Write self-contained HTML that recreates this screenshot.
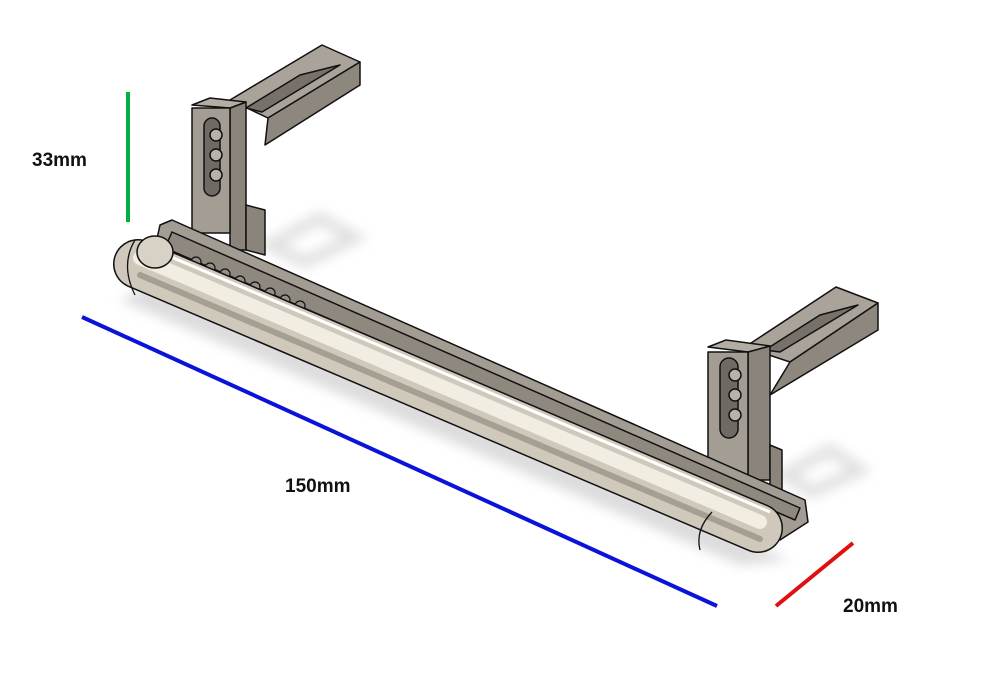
<!DOCTYPE html>
<html><head><style>
html,body{margin:0;padding:0;background:#fff;width:1000px;height:674px;overflow:hidden}
svg{display:block}
text{font-family:"Liberation Sans",Arial,sans-serif;font-size:19px;font-weight:bold;fill:#111}
</style></head><body>
<svg width="1000" height="674" viewBox="0 0 1000 674" xmlns="http://www.w3.org/2000/svg">
<defs>
<filter id="b" x="-20%" y="-20%" width="140%" height="140%"><feGaussianBlur stdDeviation="6"/></filter>
</defs>
<g filter="url(#b)" fill="#dcdcdc">
<polygon points="120,300 740,565 790,560 150,285"/>
</g>
<g fill="none" stroke="#e0e0e0" stroke-width="12" filter="url(#b)">
<polygon points="270,245 320,218 355,238 305,262"/>
<polygon points="785,475 830,450 860,470 812,492"/>
</g>
<!-- left bracket -->
<g stroke="#111" stroke-width="1.5" stroke-linejoin="round">
<polygon points="230,100 322,45 360,62 268,118" fill="#a9a39a"/>
<polygon points="268,118 360,62 360,85 265,145" fill="#8d877e"/>
<polygon points="246,108 300,75 340,65 262,112" fill="#77716a"/>
<polygon points="230,108 246,102 246,250 230,250" fill="#8a847b"/>
<polygon points="246,205 265,210 265,255 246,250" fill="#8a847b"/>
<polygon points="192,105 210,98 246,102 230,108" fill="#b3ada3"/>
<rect x="192" y="108" width="38" height="125" fill="#a39d94"/>
<rect x="204" y="118" width="16" height="78" rx="8" fill="#6f6a63"/>
<circle cx="216" cy="135" r="6" fill="#b8b2a8"/><circle cx="216" cy="155" r="6" fill="#b8b2a8"/><circle cx="216" cy="175" r="6" fill="#b8b2a8"/>
</g>
<!-- right bracket -->
<g stroke="#111" stroke-width="1.5" stroke-linejoin="round">
<polygon points="745,347 836,287 878,303 790,362" fill="#a9a39a"/>
<polygon points="790,362 878,303 878,330 770,395" fill="#8d877e"/>
<polygon points="765,350 820,315 858,305 780,352" fill="#77716a"/>
<polygon points="748,352 770,346 770,480 748,480" fill="#8a847b"/>
<polygon points="770,445 782,450 782,495 770,490" fill="#8a847b"/>
<polygon points="708,347 726,340 770,346 748,352" fill="#b3ada3"/>
<rect x="708" y="352" width="40" height="140" fill="#a39d94"/>
<rect x="720" y="358" width="18" height="80" rx="9" fill="#6f6a63"/>
<circle cx="735" cy="375" r="6" fill="#b8b2a8"/><circle cx="735" cy="395" r="6" fill="#b8b2a8"/><circle cx="735" cy="415" r="6" fill="#b8b2a8"/>
</g>
<!-- rail channel -->
<g stroke="#111" stroke-width="1.5" stroke-linejoin="round">
<polygon points="160,225 172,220 805,500 808,522 780,540 150,270" fill="#a29c93"/>
<polygon points="172,232 800,508 795,520 165,248" fill="#8e887f"/>
</g>
<g fill="#958f86" stroke="#111" stroke-width="1.2">
<circle cx="196" cy="262" r="5"/><circle cx="210" cy="268" r="5"/><circle cx="225" cy="274" r="5"/><circle cx="240" cy="281" r="5"/><circle cx="255" cy="287" r="5"/><circle cx="270" cy="293" r="5"/><circle cx="285" cy="300" r="5"/><circle cx="300" cy="306" r="5"/>
<circle cx="633" cy="457" r="5"/><circle cx="648" cy="463" r="5"/><circle cx="663" cy="470" r="5"/><circle cx="678" cy="476" r="5"/><circle cx="693" cy="483" r="5"/><circle cx="708" cy="489" r="5"/><circle cx="723" cy="496" r="5"/><circle cx="738" cy="502" r="5"/>
</g>
<!-- tube -->
<line x1="138" y1="264" x2="758" y2="528" stroke="#111" stroke-width="50" stroke-linecap="round"/>
<line x1="138" y1="264" x2="758" y2="528" stroke="#cfc8bb" stroke-width="47" stroke-linecap="round"/>
<line x1="140" y1="258" x2="760" y2="522" stroke="#f1ede3" stroke-width="14" stroke-linecap="round"/>
<line x1="140" y1="275" x2="760" y2="539" stroke="#a59e92" stroke-width="6" stroke-linecap="round"/>
<line x1="150" y1="248" x2="770" y2="512" stroke="#fff" stroke-width="3"/>
<ellipse cx="155" cy="252" rx="18" ry="16" fill="#d8d2c6" stroke="#111" stroke-width="1.5"/>
<path d="M135,240 Q120,265 135,295" fill="none" stroke="#111" stroke-width="1.3"/>
<path d="M712,512 Q695,530 700,550" fill="none" stroke="#111" stroke-width="1.3"/>
<!-- dimensions -->
<line x1="128" y1="92" x2="128" y2="222" stroke="#00b040" stroke-width="4"/>
<line x1="82" y1="317" x2="717" y2="606" stroke="#0a14d8" stroke-width="4"/>
<line x1="776" y1="606" x2="853" y2="543" stroke="#e01010" stroke-width="4"/>
<text x="32" y="166">33mm</text>
<text x="285" y="492">150mm</text>
<text x="843" y="612">20mm</text>
</svg>
</body></html>
